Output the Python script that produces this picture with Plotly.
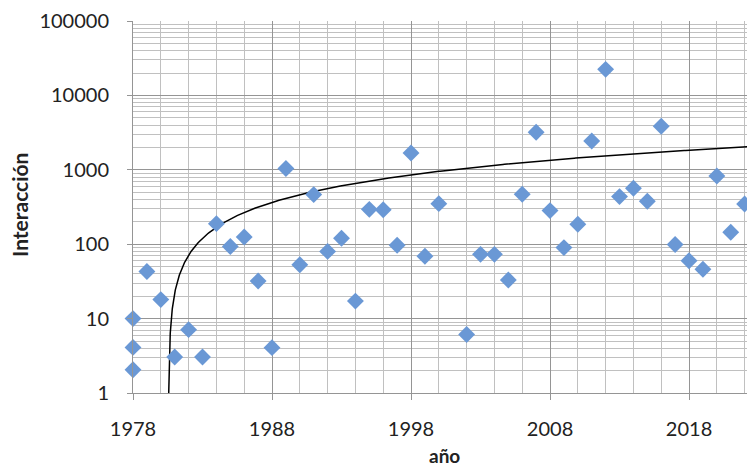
import numpy as np
import plotly.graph_objects as go

# Data
years = [1978, 1978, 1978, 1979, 1980, 1981, 1982, 1983, 1984, 1985, 1986, 1987, 1988,
         1989, 1990, 1991, 1992, 1993, 1994, 1995, 1996, 1997, 1998, 1999, 2000,
         2002, 2003, 2004, 2005, 2006, 2007, 2008, 2009, 2010, 2011, 2012, 2013,
         2014, 2015, 2016, 2017, 2018, 2019, 2020, 2021, 2022, 2023]
interaccion = [10, 4.1, 2.05, 43, 18, 3.05, 7.1, 3.05, 189, 93, 125, 32, 4.07,
               1040, 53, 464, 80, 120, 17.2, 294, 290, 97, 1680, 69, 351,
               6.1, 73, 73, 33, 469, 3190, 283, 90, 185, 2440, 22400, 436,
               564, 377, 3850, 99, 60, 46, 826, 145, 347, 113]

# Linear trend line: y = slope * (x - x0)
trend_slope = 49.0
trend_x0 = 1980.55

y_tickvals = [1, 10, 100, 1000, 10000, 100000]
y_ticktext = ["1", "10", "100", "1000", "10000", "100000"]

tx = np.concatenate([trend_x0 + np.geomspace(0.002, 2.0, 300), np.linspace(trend_x0 + 2.0, 2023.5, 400)])
ty = trend_slope * (tx - trend_x0)

fig = go.Figure()
fig.add_trace(go.Scatter(x=tx, y=ty, mode="lines", line=dict(color="black", width=1.5),
                         cliponaxis=True, hoverinfo="skip", showlegend=False))
fig.add_trace(go.Scatter(x=years, y=interaccion, mode="markers",
                         marker=dict(symbol="diamond", size=13, color="#6A98D5"),
                         cliponaxis=False, showlegend=False))

font_family = "Lato, 'Open Sans', sans-serif"
fig.update_layout(
    width=739, height=460,
    margin=dict(l=125, r=0, t=13, b=75),
    paper_bgcolor="white", plot_bgcolor="white",
    font=dict(family=font_family, size=20, color="#222"),
    showlegend=False,
    annotations=[
        dict(text="<b>año</b>", xref="paper", yref="paper", x=0.508, y=-0.167,
             xanchor="center", yanchor="middle", showarrow=False, font=dict(size=19)),
        dict(text="<b>Interacción</b>", xref="paper", yref="paper", x=-0.186, y=0.505,
             xanchor="center", yanchor="middle", showarrow=False, textangle=-90,
             font=dict(size=21)),
    ],
)
fig.update_xaxes(
    range=[1978, 2022.17], tick0=1978, dtick=10,
    showgrid=True, gridcolor="#959595", gridwidth=1,
    minor=dict(dtick=2, tick0=1978, showgrid=True, gridcolor="#C0C0C0", gridwidth=1),
    showline=True, linecolor="#959595", linewidth=1,
    ticks="outside", ticklen=6, tickcolor="#959595",
    ticklabelstandoff=12,
    tickfont=dict(size=20),
    zeroline=False,
)
fig.update_yaxes(
    type="log", range=[0, 5],
    tickvals=y_tickvals, ticktext=y_ticktext,
    showgrid=True, gridcolor="#959595", gridwidth=1,
    minor=dict(dtick="D1", showgrid=True, gridcolor="#C0C0C0", gridwidth=1),
    showline=True, linecolor="#959595", linewidth=1,
    ticks="outside", ticklen=5, tickcolor="#959595",
    ticklabelstandoff=14,
    tickfont=dict(size=20),
    zeroline=False,
)

fig.write_html("out.html")
